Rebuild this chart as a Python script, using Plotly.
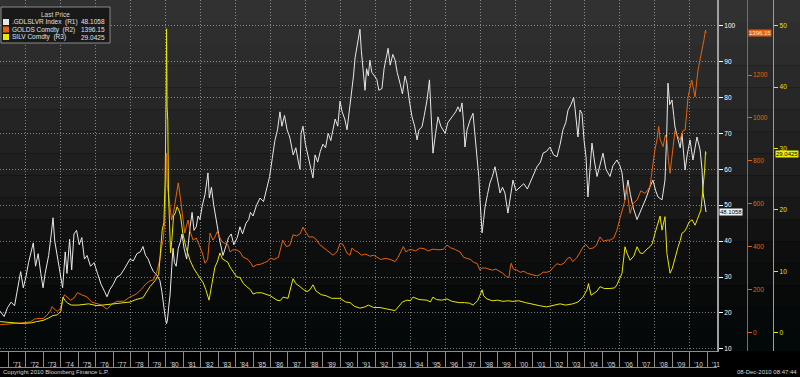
import plotly.graph_objects as go
import pandas as pd

# ---------------- data (decimal years) ----------------
RATIO_YEARS = [1970.52, 1970.75, 1970.95, 1971.15, 1971.35, 1971.55, 1971.7, 1971.85, 1972.0, 1972.15, 1972.3, 1972.42, 1972.55, 1972.7, 1972.85, 1972.98, 1973.1, 1973.3, 1973.45, 1973.55, 1973.65, 1973.8, 1973.95, 1974.1, 1974.25, 1974.35, 1974.5, 1974.62, 1974.75, 1974.9, 1975.05, 1975.2, 1975.35, 1975.5, 1975.7, 1975.9, 1976.1, 1976.3, 1976.5, 1976.64, 1976.8, 1977.0, 1977.2, 1977.4, 1977.6, 1977.8, 1977.96, 1978.15, 1978.35, 1978.55, 1978.7, 1978.85, 1979.0, 1979.15, 1979.3, 1979.5, 1979.67, 1979.78, 1979.88, 1979.97, 1980.05, 1980.1, 1980.18, 1980.25, 1980.35, 1980.42, 1980.5, 1980.6, 1980.72, 1980.85, 1980.93, 1981.05, 1981.2, 1981.3, 1981.4, 1981.51, 1981.62, 1981.75, 1981.85, 1981.96, 1982.1, 1982.25, 1982.42, 1982.5, 1982.62, 1982.75, 1982.94, 1983.1, 1983.28, 1983.45, 1983.6, 1983.75, 1983.9, 1984.1, 1984.25, 1984.4, 1984.6, 1984.75, 1984.85, 1985.0, 1985.2, 1985.4, 1985.6, 1985.8, 1985.95, 1986.1, 1986.25, 1986.4, 1986.54, 1986.65, 1986.8, 1986.95, 1987.1, 1987.3, 1987.45, 1987.6, 1987.69, 1987.75, 1987.86, 1988.0, 1988.15, 1988.3, 1988.43, 1988.55, 1988.7, 1988.85, 1989.0, 1989.15, 1989.3, 1989.45, 1989.58, 1989.7, 1989.85, 1989.98, 1990.1, 1990.25, 1990.38, 1990.5, 1990.66, 1990.75, 1990.84, 1990.95, 1991.05, 1991.12, 1991.2, 1991.3, 1991.41, 1991.5, 1991.6, 1991.69, 1991.8, 1991.95, 1992.09, 1992.2, 1992.38, 1992.5, 1992.62, 1992.73, 1992.85, 1993.0, 1993.13, 1993.25, 1993.41, 1993.55, 1993.7, 1993.81, 1993.95, 1994.1, 1994.25, 1994.39, 1994.5, 1994.67, 1994.8, 1994.96, 1995.1, 1995.2, 1995.3, 1995.45, 1995.59, 1995.75, 1995.87, 1996.0, 1996.15, 1996.27, 1996.45, 1996.6, 1996.73, 1996.85, 1996.96, 1997.05, 1997.13, 1997.25, 1997.42, 1997.59, 1997.7, 1997.82, 1997.92, 1997.99, 1998.06, 1998.11, 1998.2, 1998.28, 1998.42, 1998.56, 1998.7, 1998.85, 1999.0, 1999.14, 1999.28, 1999.42, 1999.59, 1999.72, 1999.88, 2000.05, 2000.28, 2000.5, 2000.7, 2000.85, 2001.05, 2001.25, 2001.45, 2001.6, 2001.8, 2002.0, 2002.2, 2002.4, 2002.58, 2002.74, 2002.9, 2003.03, 2003.2, 2003.35, 2003.43, 2003.6, 2003.72, 2003.83, 2003.95, 2004.06, 2004.17, 2004.28, 2004.4, 2004.55, 2004.69, 2004.85, 2005.03, 2005.2, 2005.43, 2005.6, 2005.83, 2006.0, 2006.12, 2006.29, 2006.46, 2006.6, 2006.75, 2006.98, 2007.15, 2007.32, 2007.5, 2007.72, 2007.89, 2008.05, 2008.18, 2008.41, 2008.58, 2008.68, 2008.75, 2008.85, 2008.98, 2009.08, 2009.15, 2009.33, 2009.45, 2009.55, 2009.65, 2009.73, 2009.85, 2010.01, 2010.18, 2010.3, 2010.41, 2010.59, 2010.7, 2010.76, 2010.85, 2010.93]
RATIO_VALUES = [20.5, 19.0, 21.5, 23.0, 22.0, 27.0, 31.5, 27.0, 30.0, 34.0, 37.0, 39.5, 33.0, 36.5, 31.0, 27.0, 31.0, 36.0, 42.0, 46.5, 40.0, 36.0, 31.0, 27.0, 37.0, 31.0, 40.5, 32.0, 42.0, 43.0, 39.0, 41.0, 35.0, 36.0, 33.0, 34.0, 31.0, 28.0, 26.0, 24.5, 26.5, 28.0, 30.0, 30.5, 32.0, 33.5, 35.0, 34.5, 36.5, 37.0, 38.5, 36.0, 35.0, 33.0, 31.5, 30.5, 29.0, 26.0, 21.5, 19.0, 17.0, 18.0, 22.0, 25.0, 33.0, 38.0, 34.0, 33.0, 38.0, 40.0, 42.0, 38.0, 35.0, 40.0, 44.0, 48.0, 43.0, 44.0, 47.0, 46.0, 50.0, 53.0, 59.0, 52.0, 55.0, 50.0, 44.0, 40.0, 36.0, 39.0, 41.0, 42.0, 39.0, 41.0, 44.0, 42.0, 45.0, 46.0, 48.0, 47.0, 50.0, 52.0, 51.0, 55.0, 58.0, 63.0, 68.0, 71.0, 76.0, 72.0, 75.0, 71.0, 69.0, 64.0, 66.0, 62.0, 60.0, 70.0, 72.0, 67.0, 64.0, 61.0, 57.6, 64.0, 62.0, 65.0, 67.0, 66.0, 70.0, 68.0, 71.0, 74.0, 72.0, 79.0, 76.0, 74.0, 71.0, 76.0, 81.0, 86.0, 91.0, 94.0, 96.0, 99.0, 93.0, 88.0, 82.0, 88.0, 86.0, 90.4, 87.0, 86.0, 85.0, 82.0, 82.5, 88.0, 91.0, 93.7, 89.0, 92.0, 90.4, 87.0, 84.0, 81.0, 86.0, 84.0, 79.0, 74.6, 72.0, 68.2, 71.0, 71.8, 75.0, 79.3, 84.9, 73.0, 64.5, 70.0, 74.6, 72.0, 71.0, 70.0, 73.0, 73.7, 75.0, 76.0, 77.4, 76.0, 78.5, 73.0, 66.2, 71.0, 73.7, 75.6, 70.0, 63.5, 58.0, 51.5, 46.0, 42.3, 46.0, 49.5, 53.0, 56.2, 58.0, 60.7, 57.0, 53.4, 55.0, 53.4, 47.8, 52.0, 57.0, 54.0, 55.1, 56.0, 54.5, 56.2, 58.0, 60.7, 62.0, 64.5, 65.0, 66.2, 64.0, 63.5, 67.0, 71.0, 73.0, 76.5, 78.0, 80.0, 77.0, 69.0, 76.5, 75.6, 68.0, 63.5, 52.3, 60.0, 67.3, 62.0, 58.0, 61.0, 64.5, 60.0, 58.0, 61.0, 62.6, 61.0, 59.0, 51.5, 57.0, 53.0, 49.5, 46.0, 48.0, 49.5, 52.0, 55.1, 57.0, 54.0, 52.3, 51.5, 57.0, 70.0, 84.0, 78.0, 79.3, 75.0, 71.8, 68.2, 66.0, 70.0, 64.0, 59.8, 64.0, 68.2, 62.6, 66.0, 69.0, 65.4, 60.0, 53.4, 51.0, 48.1058]

GOLD_YEARS = [1970.52, 1970.8, 1971.1, 1971.4, 1971.7, 1972.0, 1972.25, 1972.5, 1972.75, 1972.98, 1973.2, 1973.4, 1973.5, 1973.6, 1973.8, 1973.98, 1974.1, 1974.2, 1974.35, 1974.55, 1974.75, 1974.95, 1975.2, 1975.5, 1975.75, 1976.0, 1976.3, 1976.64, 1976.9, 1977.21, 1977.6, 1977.96, 1978.3, 1978.6, 1978.85, 1979.1, 1979.3, 1979.5, 1979.67, 1979.75, 1979.85, 1979.95, 1980.02, 1980.05, 1980.09, 1980.15, 1980.25, 1980.34, 1980.45, 1980.55, 1980.63, 1980.72, 1980.82, 1980.9, 1981.0, 1981.09, 1981.2, 1981.28, 1981.4, 1981.57, 1981.75, 1981.96, 1982.1, 1982.25, 1982.4, 1982.54, 1982.7, 1982.82, 1982.95, 1983.11, 1983.25, 1983.4, 1983.55, 1983.68, 1983.85, 1984.08, 1984.25, 1984.43, 1984.6, 1984.71, 1984.9, 1985.0, 1985.2, 1985.45, 1985.65, 1985.8, 1986.0, 1986.2, 1986.45, 1986.7, 1986.9, 1987.1, 1987.29, 1987.5, 1987.7, 1987.86, 1988.0, 1988.2, 1988.43, 1988.6, 1988.8, 1989.0, 1989.2, 1989.4, 1989.58, 1989.8, 1989.98, 1990.15, 1990.38, 1990.55, 1990.66, 1990.85, 1991.0, 1991.2, 1991.45, 1991.7, 1991.9, 1992.09, 1992.3, 1992.6, 1992.85, 1993.13, 1993.3, 1993.45, 1993.6, 1993.75, 1993.9, 1994.1, 1994.3, 1994.55, 1994.8, 1995.0, 1995.3, 1995.6, 1995.9, 1996.1, 1996.3, 1996.6, 1996.85, 1997.05, 1997.25, 1997.45, 1997.65, 1997.82, 1997.99, 1998.11, 1998.3, 1998.5, 1998.7, 1998.9, 1999.1, 1999.3, 1999.5, 1999.65, 1999.72, 1999.78, 1999.9, 2000.1, 2000.3, 2000.5, 2000.7, 2000.9, 2001.1, 2001.25, 2001.45, 2001.6, 2001.8, 2002.0, 2002.2, 2002.4, 2002.6, 2002.8, 2003.0, 2003.15, 2003.3, 2003.5, 2003.7, 2003.89, 2004.05, 2004.25, 2004.46, 2004.65, 2004.86, 2005.05, 2005.25, 2005.43, 2005.65, 2005.83, 2006.0, 2006.12, 2006.29, 2006.38, 2006.46, 2006.58, 2006.75, 2006.98, 2007.2, 2007.44, 2007.6, 2007.72, 2007.82, 2007.89, 2008.0, 2008.12, 2008.22, 2008.3, 2008.47, 2008.6, 2008.69, 2008.78, 2008.87, 2008.95, 2009.04, 2009.15, 2009.27, 2009.44, 2009.6, 2009.73, 2009.82, 2009.9, 2010.11, 2010.3, 2010.47, 2010.68, 2010.81, 2010.9, 2010.93]
GOLD_VALUES = [35.5, 37.0, 38.0, 40.0, 42.0, 46.0, 49.0, 62.0, 65.0, 64.0, 80.0, 100.0, 120.0, 110.0, 98.0, 112.0, 150.0, 175.0, 165.0, 150.0, 160.0, 185.0, 175.0, 165.0, 142.0, 135.0, 128.0, 108.0, 130.0, 145.0, 145.0, 165.0, 178.0, 200.0, 225.0, 240.0, 245.0, 285.0, 340.0, 390.0, 430.0, 520.0, 680.0, 836.0, 690.0, 650.0, 580.0, 524.0, 560.0, 610.0, 631.0, 697.0, 640.0, 585.0, 520.0, 463.0, 500.0, 524.0, 470.0, 430.0, 440.0, 398.0, 370.0, 322.0, 340.0, 463.0, 430.0, 445.0, 470.0, 440.0, 420.0, 415.0, 410.0, 375.0, 385.0, 384.0, 375.0, 351.0, 345.0, 340.0, 320.0, 305.0, 315.0, 318.0, 325.0, 330.0, 345.0, 340.0, 350.0, 430.0, 400.0, 405.0, 455.0, 450.0, 460.0, 491.0, 470.0, 445.0, 445.0, 435.0, 410.0, 398.0, 385.0, 370.0, 360.0, 375.0, 415.0, 410.0, 369.0, 360.0, 393.0, 380.0, 375.0, 360.0, 365.0, 355.0, 360.0, 351.0, 340.0, 345.0, 340.0, 330.0, 350.0, 375.0, 400.0, 375.0, 384.0, 385.0, 380.0, 393.0, 390.0, 380.0, 388.0, 385.0, 387.0, 407.0, 395.0, 385.0, 375.0, 350.0, 345.0, 340.0, 325.0, 322.0, 290.0, 300.0, 300.0, 295.0, 290.0, 295.0, 285.0, 275.0, 260.0, 256.0, 300.0, 322.0, 295.0, 290.0, 280.0, 285.0, 275.0, 270.0, 265.0, 263.0, 270.0, 281.0, 280.0, 285.0, 305.0, 320.0, 315.0, 322.0, 345.0, 350.0, 330.0, 345.0, 370.0, 398.0, 410.0, 390.0, 393.0, 405.0, 445.0, 425.0, 430.0, 430.0, 440.0, 477.0, 530.0, 570.0, 617.0, 680.0, 617.0, 555.0, 600.0, 617.0, 660.0, 648.0, 665.0, 679.0, 740.0, 789.0, 850.0, 897.0, 960.0, 900.0, 866.0, 920.0, 897.0, 800.0, 742.0, 800.0, 866.0, 940.0, 920.0, 897.0, 940.0, 943.0, 1020.0, 1098.0, 1177.0, 1098.0, 1223.0, 1302.0, 1364.0, 1410.0, 1396.15]

SILVER_YEARS = [1970.52, 1970.8, 1971.1, 1971.4, 1971.7, 1972.0, 1972.3, 1972.6, 1972.98, 1973.3, 1973.55, 1973.8, 1974.0, 1974.12, 1974.25, 1974.4, 1974.6, 1974.98, 1975.3, 1975.6, 1976.07, 1976.4, 1976.64, 1977.0, 1977.4, 1977.96, 1978.3, 1978.7, 1979.1, 1979.4, 1979.6, 1979.7, 1979.8, 1979.9, 1979.97, 1980.03, 1980.05, 1980.08, 1980.12, 1980.16, 1980.22, 1980.28, 1980.35, 1980.45, 1980.55, 1980.65, 1980.75, 1980.85, 1980.98, 1981.15, 1981.39, 1981.6, 1981.78, 1981.95, 1982.15, 1982.3, 1982.48, 1982.65, 1982.82, 1982.95, 1983.11, 1983.25, 1983.4, 1983.55, 1983.68, 1983.85, 1984.06, 1984.25, 1984.45, 1984.64, 1984.85, 1985.0, 1985.2, 1985.5, 1985.8, 1986.0, 1986.37, 1986.55, 1986.72, 1987.0, 1987.29, 1987.45, 1987.69, 1987.9, 1988.1, 1988.26, 1988.43, 1988.6, 1988.9, 1989.2, 1989.5, 1989.98, 1990.3, 1990.55, 1990.8, 1991.12, 1991.4, 1991.6, 1991.9, 1992.27, 1992.6, 1993.0, 1993.13, 1993.4, 1993.55, 1993.81, 1994.0, 1994.16, 1994.5, 1994.96, 1995.15, 1995.3, 1995.5, 1995.8, 1996.1, 1996.4, 1996.8, 1997.1, 1997.4, 1997.59, 1997.85, 1998.05, 1998.11, 1998.2, 1998.39, 1998.7, 1999.0, 1999.3, 1999.6, 1999.88, 2000.2, 2000.6, 2001.0, 2001.4, 2001.8, 2002.2, 2002.57, 2002.9, 2003.3, 2003.6, 2003.89, 2004.12, 2004.2, 2004.35, 2004.46, 2004.7, 2004.86, 2005.1, 2005.43, 2005.7, 2005.83, 2006.0, 2006.12, 2006.29, 2006.4, 2006.58, 2006.8, 2006.98, 2007.15, 2007.32, 2007.5, 2007.72, 2007.85, 2008.01, 2008.18, 2008.3, 2008.41, 2008.58, 2008.69, 2008.78, 2008.87, 2009.0, 2009.15, 2009.33, 2009.45, 2009.55, 2009.7, 2009.84, 2009.95, 2010.13, 2010.3, 2010.47, 2010.64, 2010.76, 2010.85, 2010.9, 2010.93]
SILVER_VALUES = [1.8, 1.7, 1.6, 1.6, 1.5, 1.5, 1.6, 1.8, 2.0, 2.4, 2.8, 2.9, 3.5, 5.8, 5.2, 4.8, 4.5, 4.5, 4.6, 4.7, 4.4, 4.5, 4.6, 4.8, 4.8, 5.0, 5.4, 5.7, 7.5, 8.5, 9.5, 14.0, 16.7, 18.0, 25.0, 40.0, 49.5, 36.8, 34.6, 22.7, 16.2, 13.0, 15.0, 19.0, 19.5, 20.5, 20.0, 19.0, 16.2, 14.0, 11.8, 10.5, 9.7, 9.0, 8.1, 7.0, 5.3, 8.0, 10.7, 11.5, 13.0, 12.0, 11.8, 11.5, 10.7, 10.0, 9.1, 9.0, 8.0, 7.5, 7.0, 6.3, 6.5, 6.5, 6.2, 6.0, 5.3, 5.2, 5.8, 5.6, 8.8, 8.0, 7.5, 7.0, 6.7, 7.0, 7.8, 6.8, 6.2, 6.0, 5.6, 5.6, 5.0, 4.9, 4.3, 4.0, 4.2, 4.5, 4.1, 4.1, 3.9, 3.7, 3.6, 4.5, 5.0, 5.3, 5.2, 5.8, 5.4, 5.3, 5.0, 5.8, 5.4, 5.3, 5.5, 5.1, 4.9, 4.9, 4.8, 4.5, 5.2, 6.5, 7.0, 6.0, 5.5, 5.2, 5.3, 5.1, 5.2, 5.1, 5.2, 4.9, 4.6, 4.4, 4.2, 4.5, 4.7, 4.5, 4.7, 5.0, 5.8, 7.0, 8.0, 6.1, 6.3, 6.8, 7.5, 7.2, 7.2, 7.3, 7.8, 8.8, 9.7, 14.0, 13.0, 11.8, 12.5, 14.0, 13.0, 12.9, 13.5, 14.0, 14.5, 16.2, 17.8, 19.0, 16.7, 18.9, 12.9, 11.0, 9.7, 10.5, 12.3, 14.0, 15.0, 16.2, 16.5, 17.2, 18.0, 18.4, 17.5, 18.9, 20.0, 23.7, 26.5, 29.5, 29.0425]

SERIES_NAMES = [".GDLSLVR Index", "GOLDS Comdty", "SILV Comdty"]
SERIES_AXES = ["R1", "R2", "R3"]
R1_TICKS = [10, 20, 30, 40, 50, 60, 70, 80, 90, 100]
R2_TICKS = [0, 200, 400, 600, 800, 1000, 1200]
R3_TICKS = [0, 10, 20, 30, 40, 50]
LEGEND_TITLE = "Last Price"
FOOTER_LEFT = "Copyright 2010 Bloomberg Finance L.P."
FOOTER_RIGHT = "08-Dec-2010 08:47:44"

# ---------------- helpers ----------------
W, H = 800, 377
PLOT_BOTTOM = 351
X_END = 717


def to_date(y):
    yi = int(y)
    s = pd.Timestamp(year=yi, month=1, day=1)
    e = pd.Timestamp(year=yi + 1, month=1, day=1)
    return s + (e - s) * (y - yi)


def px(x):
    return x / W


def py(y):
    return (PLOT_BOTTOM - y) / PLOT_BOTTOM


WHITE = "#e8e8e8"
ORANGE = "#e4640e"
YELLOW = "#e8e800"
FONT = "Liberation Sans, Arial, sans-serif"
GRID = "rgba(200,200,200,0.6)"
GRID_DASH = "1px,2px"
FS = 6

x_range = [to_date(1970.516), to_date(1970.516 + X_END / 17.47)]

fig = go.Figure()
fig.add_trace(go.Scatter(x=[to_date(v) for v in RATIO_YEARS], y=RATIO_VALUES, mode="lines",
                         line=dict(color=WHITE, width=1), name=SERIES_NAMES[0], yaxis="y"))
fig.add_trace(go.Scatter(x=[to_date(v) for v in GOLD_YEARS], y=GOLD_VALUES, mode="lines",
                         line=dict(color=ORANGE, width=1), name=SERIES_NAMES[1], yaxis="y2"))
fig.add_trace(go.Scatter(x=[to_date(v) for v in SILVER_YEARS], y=SILVER_VALUES, mode="lines",
                         line=dict(color=YELLOW, width=1), name=SERIES_NAMES[2], yaxis="y3"))
# carrier for the 2-year vertical grid axis
fig.add_trace(go.Scatter(x=[], y=[], xaxis="x2", yaxis="y", showlegend=False, hoverinfo="skip"))

# background gradient (banded, like the terminal chart)
stops = [(0.0, (50, 50, 50)), (0.3, (38, 38, 38)), (0.55, (27, 27, 27)),
         (0.7, (15, 15, 15)), (0.85, (8, 10, 10)), (1.0, (2, 8, 8))]


def col_at(t):
    for (t0, c0), (t1, c1) in zip(stops[:-1], stops[1:]):
        if t0 <= t <= t1:
            f = (t - t0) / (t1 - t0)
            return "rgb(%d,%d,%d)" % tuple(round(a + (b - a) * f) for a, b in zip(c0, c1))
    return "rgb(2,8,8)"


shapes = []
N = 16
for k in range(N):
    t = (k + 0.5) / N
    shapes.append(dict(type="rect", xref="paper", yref="paper", x0=0, x1=1,
                       y0=1 - (k + 1) / N, y1=1 - k / N, fillcolor=col_at(t),
                       line=dict(width=0), layer="below"))
# bottom line of x-axis label band
shapes.append(dict(type="line", xref="paper", yref="paper", x0=0, x1=px(X_END),
                   y0=py(367.5), y1=py(367.5), line=dict(color="#8c8c8c", width=1)))
# legend box
shapes.append(dict(type="rect", xref="paper", yref="paper", x0=px(1), x1=px(110),
                   y0=py(43), y1=py(7), fillcolor="rgba(24,24,24,0.95)",
                   line=dict(color="#8a8a8a", width=1), layer="above"))

annotations = [dict(xref="paper", yref="paper", x=px(55), y=py(14), text=LEGEND_TITLE,
                    showarrow=False, font=dict(size=FS + 0.5, color="#d8d8d8", family=FONT),
                    xanchor="center", yanchor="middle")]
colors = [WHITE, ORANGE, YELLOW]
last_vals = [RATIO_VALUES[-1], GOLD_VALUES[-1], SILVER_VALUES[-1]]
fmt = ["%.4f", "%.2f", "%.4f"]
row_y = [22, 29.5, 37]
for i in range(3):
    shapes.append(dict(type="rect", xref="paper", yref="paper", x0=px(3), x1=px(9),
                       y0=py(row_y[i] + 3), y1=py(row_y[i] - 3), fillcolor=colors[i],
                       line=dict(width=0), layer="above"))
    annotations.append(dict(xref="paper", yref="paper", x=px(10), y=py(row_y[i]),
                            text=SERIES_NAMES[i] + "\u00a0\u00a0(" + SERIES_AXES[i] + ")",
                            showarrow=False, xanchor="left", yanchor="middle",
                            font=dict(size=FS + 0.5, color="#e0e0e0", family=FONT)))
    annotations.append(dict(xref="paper", yref="paper", x=px(107), y=py(row_y[i]),
                            text=fmt[i] % last_vals[i], showarrow=False, xanchor="right",
                            yanchor="middle", font=dict(size=FS + 0.5, color="#e0e0e0", family=FONT)))

# last-value tags on the axes
tag_specs = [("y", px(719), "left", "#f2f2f2", "#000000"),
             ("y2", px(748), "left", "#e8600a", "#ffe8d8"),
             ("y3", px(775), "left", "#f0f000", "#000000")]
for i, (yr, xp, xa, bg, fc) in enumerate(tag_specs):
    annotations.append(dict(xref="paper", yref=yr, x=xp, y=last_vals[i], text=fmt[i] % last_vals[i],
                            showarrow=False, xanchor=xa, yanchor="middle", bgcolor=bg,
                            borderpad=0, font=dict(size=FS, color=fc, family=FONT)))

annotations.append(dict(xref="paper", yref="paper", x=px(2), y=py(372), text=FOOTER_LEFT,
                        showarrow=False, xanchor="left", yanchor="middle", borderpad=0,
                        font=dict(size=FS, color="#d8d8d8", family=FONT)))
annotations.append(dict(xref="paper", yref="paper", x=px(798), y=py(372), text=FOOTER_RIGHT,
                        showarrow=False, xanchor="right", yanchor="middle", borderpad=0,
                        font=dict(size=FS, color="#d8d8d8", family=FONT)))

fig.update_layout(
    width=W, height=H,
    margin=dict(l=0, r=0, t=0, b=H - PLOT_BOTTOM, pad=0),
    paper_bgcolor="#000000", plot_bgcolor="rgba(0,0,0,0)",
    showlegend=False,
    shapes=shapes, annotations=annotations,
    xaxis=dict(domain=[0, px(X_END)], range=x_range, anchor="y", type="date",
               dtick="M12", tick0="1970-01-01", ticklabelmode="period", tickformat="'%y",
               ticks="outside", ticklen=16, tickcolor="#8c8c8c", tickwidth=1,
               ticklabelstandoff=-9, automargin=False,
               tickfont=dict(size=FS + 0.5, color="#dcdcdc", family=FONT),
               showgrid=False, showline=True, linecolor="#8c8c8c", linewidth=1, zeroline=False),
    xaxis2=dict(overlaying="x", anchor="y", range=x_range, type="date", dtick="M24",
                tick0="1972-01-01", showgrid=True, gridcolor=GRID, griddash=GRID_DASH, gridwidth=1,
                showticklabels=False, ticks="", showline=False, zeroline=False),
    yaxis=dict(side="right", anchor="x", range=[9.4, 107.15], tickvals=R1_TICKS,
               showgrid=True, gridcolor=GRID, griddash=GRID_DASH, gridwidth=1,
               showline=True, linecolor="#a0a0a0", linewidth=2, automargin=False,
               ticks="outside", ticklen=4, tickcolor="#ffffff",
               tickfont=dict(size=FS + 0.5, color="#ffffff", family=FONT), zeroline=False),
    yaxis2=dict(side="right", overlaying="y", anchor="free", position=746.7 / W,
                range=[-87, 1550], tickvals=R2_TICKS, showgrid=False, automargin=False,
                showline=True, linecolor="#c05a12", linewidth=1,
                ticks="outside", ticklen=4, tickcolor=ORANGE,
                tickfont=dict(size=FS + 0.5, color=ORANGE, family=FONT), zeroline=False),
    yaxis3=dict(side="right", overlaying="y", anchor="free", position=773.3 / W,
                range=[-2.98, 54.19], tickvals=R3_TICKS, showgrid=False, automargin=False,
                showline=True, linecolor="#b0a828", linewidth=1,
                ticks="outside", ticklen=4, tickcolor=YELLOW,
                tickfont=dict(size=FS + 0.5, color=YELLOW, family=FONT), zeroline=False),
)

fig.write_html("out.html", config={"displayModeBar": False},
               post_script="document.body.style.margin='0';document.body.style.padding='0';"
                           "document.body.style.overflow='hidden';document.body.style.background='#000';")
